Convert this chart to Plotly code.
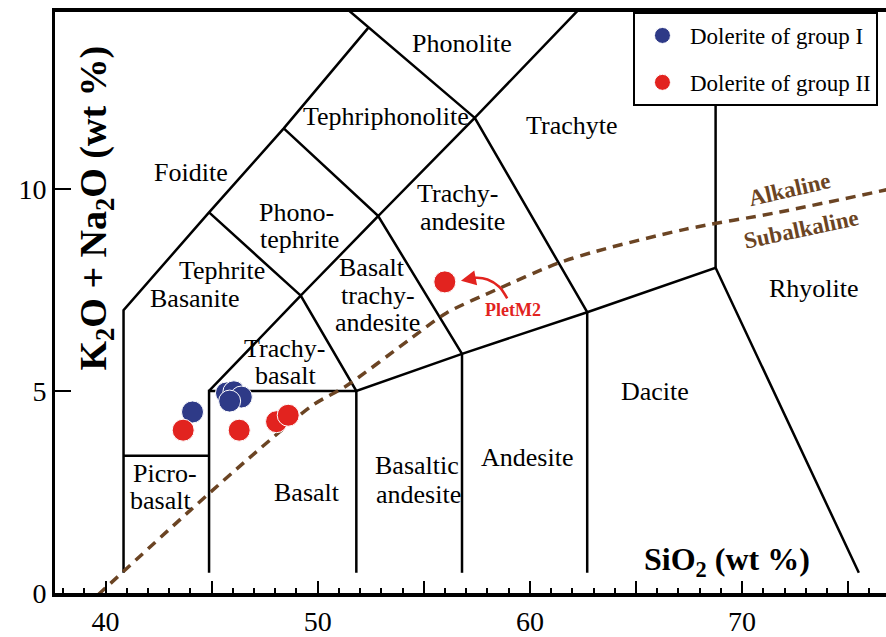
import plotly.graph_objects as go

# ---- data -------------------------------------------------------------
group1_sio2 = [44.10, 45.70, 46.05, 46.40, 45.85]
group1_alk = [4.48, 4.95, 4.98, 4.85, 4.75]
group2_sio2 = [43.66, 46.30, 48.06, 48.61, 55.99]
group2_alk = [4.03, 4.03, 4.24, 4.40, 7.70]

# Alkaline / Subalkaline boundary
divide_sio2 = [39.64, 43.98, 47.12, 49.77, 51.36, 54.34, 56.07, 58.43, 61.26,
               63.14, 67.3, 71.78, 76.9]
divide_alk = [-0.05, 2.04, 3.50, 4.65, 5.13, 6.28, 6.93, 7.51, 8.15,
              8.46, 9.0, 9.43, 9.99]

# TAS field boundaries (polylines, as drawn in the picture)
boundaries = [
    [(40.85, 0.5), (40.85, 7.0), (44.88, 9.42), (48.4, 11.5), (52.4, 14.0)],
    [(40.85, 3.4), (44.88, 3.4)],
    [(44.88, 0.5), (44.88, 5.0), (51.82, 5.0), (51.82, 0.5)],
    [(44.88, 5.0), (49.2, 7.36), (51.82, 5.0), (56.8, 5.92), (62.7, 6.95), (68.75, 8.05), (75.5, 0.5)],
    [(56.8, 0.5), (56.8, 5.92)],
    [(62.7, 0.5), (62.7, 6.95)],
    [(68.75, 8.05), (68.75, 14.6)],
    [(44.88, 9.42), (49.2, 7.36), (52.85, 9.33), (56.8, 5.92)],
    [(48.4, 11.5), (52.85, 9.33), (57.4, 11.76), (62.7, 6.95)],
    [(51.28, 14.5), (52.4, 14.0), (57.4, 11.76), (62.41, 14.5)],
]

# field names, one entry per text line
field_labels = [
    ("Phonolite", 56.8, 13.59), ("Tephriphonolite", 53.2, 11.8), ("Trachyte", 61.97, 11.57),
    ("Foidite", 44.02, 10.42),
    ("Phono-", 48.99, 9.42), ("tephrite", 49.16, 8.74),
    ("Tephrite", 45.47, 7.97), ("Basanite", 44.21, 7.29),
    ("Trachy-", 56.6, 9.9), ("andesite", 56.8, 9.2),
    ("Basalt", 52.56, 8.05), ("trachy-", 52.84, 7.37), ("andesite", 52.84, 6.69),
    ("Rhyolite", 73.38, 7.53),
    ("Trachy-", 48.45, 6.06), ("basalt", 48.46, 5.38),
    ("Dacite", 65.9, 4.99),
    ("Basaltic", 54.67, 3.15), ("andesite", 54.77, 2.43),
    ("Andesite", 59.86, 3.35),
    ("Picro-", 42.8, 2.95), ("basalt", 42.6, 2.28),
    ("Basalt", 49.51, 2.49),
]

# arrow for PletM2
arrow_sio2 = [58.93, 58.55, 58.0, 57.45, 57.05]
arrow_alk = [7.29, 7.58, 7.76, 7.80, 7.76]

SERIF = "Liberation Serif"
BROWN = "#6B4423"
BLUE = "#2E3A87"
RED = "#E2231F"

fig = go.Figure()

for line in boundaries:
    fig.add_trace(go.Scatter(x=[p[0] for p in line], y=[p[1] for p in line], mode="lines",
                             line=dict(color="black", width=2.5), showlegend=False,
                             hoverinfo="skip"))

fig.add_trace(go.Scatter(x=divide_sio2, y=divide_alk, mode="lines",
                         line=dict(color=BROWN, width=3.5, dash="10px,7px", shape="spline",
                                   smoothing=0.8),
                         showlegend=False, hoverinfo="skip"))

fig.add_trace(go.Scatter(x=arrow_sio2, y=arrow_alk, mode="lines",
                         line=dict(color=RED, width=2.5, shape="spline"),
                         showlegend=False, hoverinfo="skip"))

fig.add_trace(go.Scatter(x=group1_sio2, y=group1_alk, mode="markers", name="Dolerite of group I",
                         legendgroup="g1",
                         marker=dict(size=22, color=BLUE, line=dict(color="white", width=1))))
fig.add_trace(go.Scatter(x=group2_sio2, y=group2_alk, mode="markers", name="Dolerite of group II",
                         legendgroup="g2",
                         marker=dict(size=22, color=RED, line=dict(color="white", width=1))))

ann = []
for text, x, y in field_labels:
    ann.append(dict(x=x, y=y, xref="x", yref="y", text=text, showarrow=False,
                    xanchor="center", yanchor="middle",
                    font=dict(family=SERIF, size=26, color="black")))

ann.append(dict(x=arrow_sio2[-1] - 0.3, y=arrow_alk[-1] - 0.03, ax=arrow_sio2[-1], ay=arrow_alk[-1],
                xref="x", yref="y", axref="x", ayref="y", text="", showarrow=True,
                arrowhead=2, arrowsize=1.2, arrowwidth=2.5, arrowcolor=RED))
ann.append(dict(x=59.2, y=7.0, xref="x", yref="y", text="<b>PletM2</b>", showarrow=False,
                xanchor="center", yanchor="middle",
                font=dict(family=SERIF, size=18, color=RED)))
ann.append(dict(x=72.25, y=9.98, xref="x", yref="y", text="<b>Alkaline</b>", showarrow=False,
                xanchor="center", yanchor="middle",
                textangle=-13, font=dict(family=SERIF, size=23, color=BROWN)))
ann.append(dict(x=72.76, y=9.0, xref="x", yref="y", text="<b>Subalkaline</b>", showarrow=False,
                xanchor="center", yanchor="middle",
                textangle=-12, font=dict(family=SERIF, size=23, color=BROWN)))
ann.append(dict(x=0.049, y=0.663, xref="paper", yref="paper",
                text="<b>K<sub>2</sub>O + Na<sub>2</sub>O (wt %)</b>", showarrow=False,
                xanchor="center", yanchor="middle",
                textangle=-90, font=dict(family=SERIF, size=38, color="black")))
ann.append(dict(x=0.8087, y=0.0544, xref="paper", yref="paper",
                text="<b>SiO<sub>2</sub> (wt %)</b>", showarrow=False,
                xanchor="center", yanchor="middle",
                font=dict(family=SERIF, size=32, color="black")))

xtick_vals = [40, 45, 50, 55, 60, 65, 70, 75]
xtick_text = ["40", "", "50", "", "60", "", "70", ""]

fig.update_layout(
    width=886, height=637,
    margin=dict(l=55, r=0, t=12, b=37),
    paper_bgcolor="white", plot_bgcolor="white",
    font=dict(family=SERIF, color="black"),
    annotations=ann,
    showlegend=True,
    legend=dict(x=0.6955, y=1.0, xanchor="left", yanchor="top",
                bgcolor="white", bordercolor="black", borderwidth=2,
                font=dict(family=SERIF, size=23, color="black"),
                tracegroupgap=14, itemsizing="trace", itemwidth=45,
                entrywidth=215),
    xaxis=dict(range=[37.62, 76.78], showgrid=False, zeroline=False,
               showline=True, linecolor="black", linewidth=4, mirror=True,
               tickmode="array", tickvals=xtick_vals, ticktext=xtick_text,
               ticks="inside", ticklen=12, tickwidth=2, tickcolor="black",
               tickfont=dict(family=SERIF, size=28, color="black"),
               minor=dict(dtick=1, ticks="inside", ticklen=5, tickwidth=2, tickcolor="black")),
    yaxis=dict(range=[0, 14.38], showgrid=False, zeroline=False,
               showline=True, linecolor="black", linewidth=3,
               tickmode="array", tickvals=[0, 5, 10],
               ticks="inside", ticklen=16, tickwidth=2, tickcolor="black",
               tickfont=dict(family=SERIF, size=28, color="black")),
)

fig.write_html("out.html")
